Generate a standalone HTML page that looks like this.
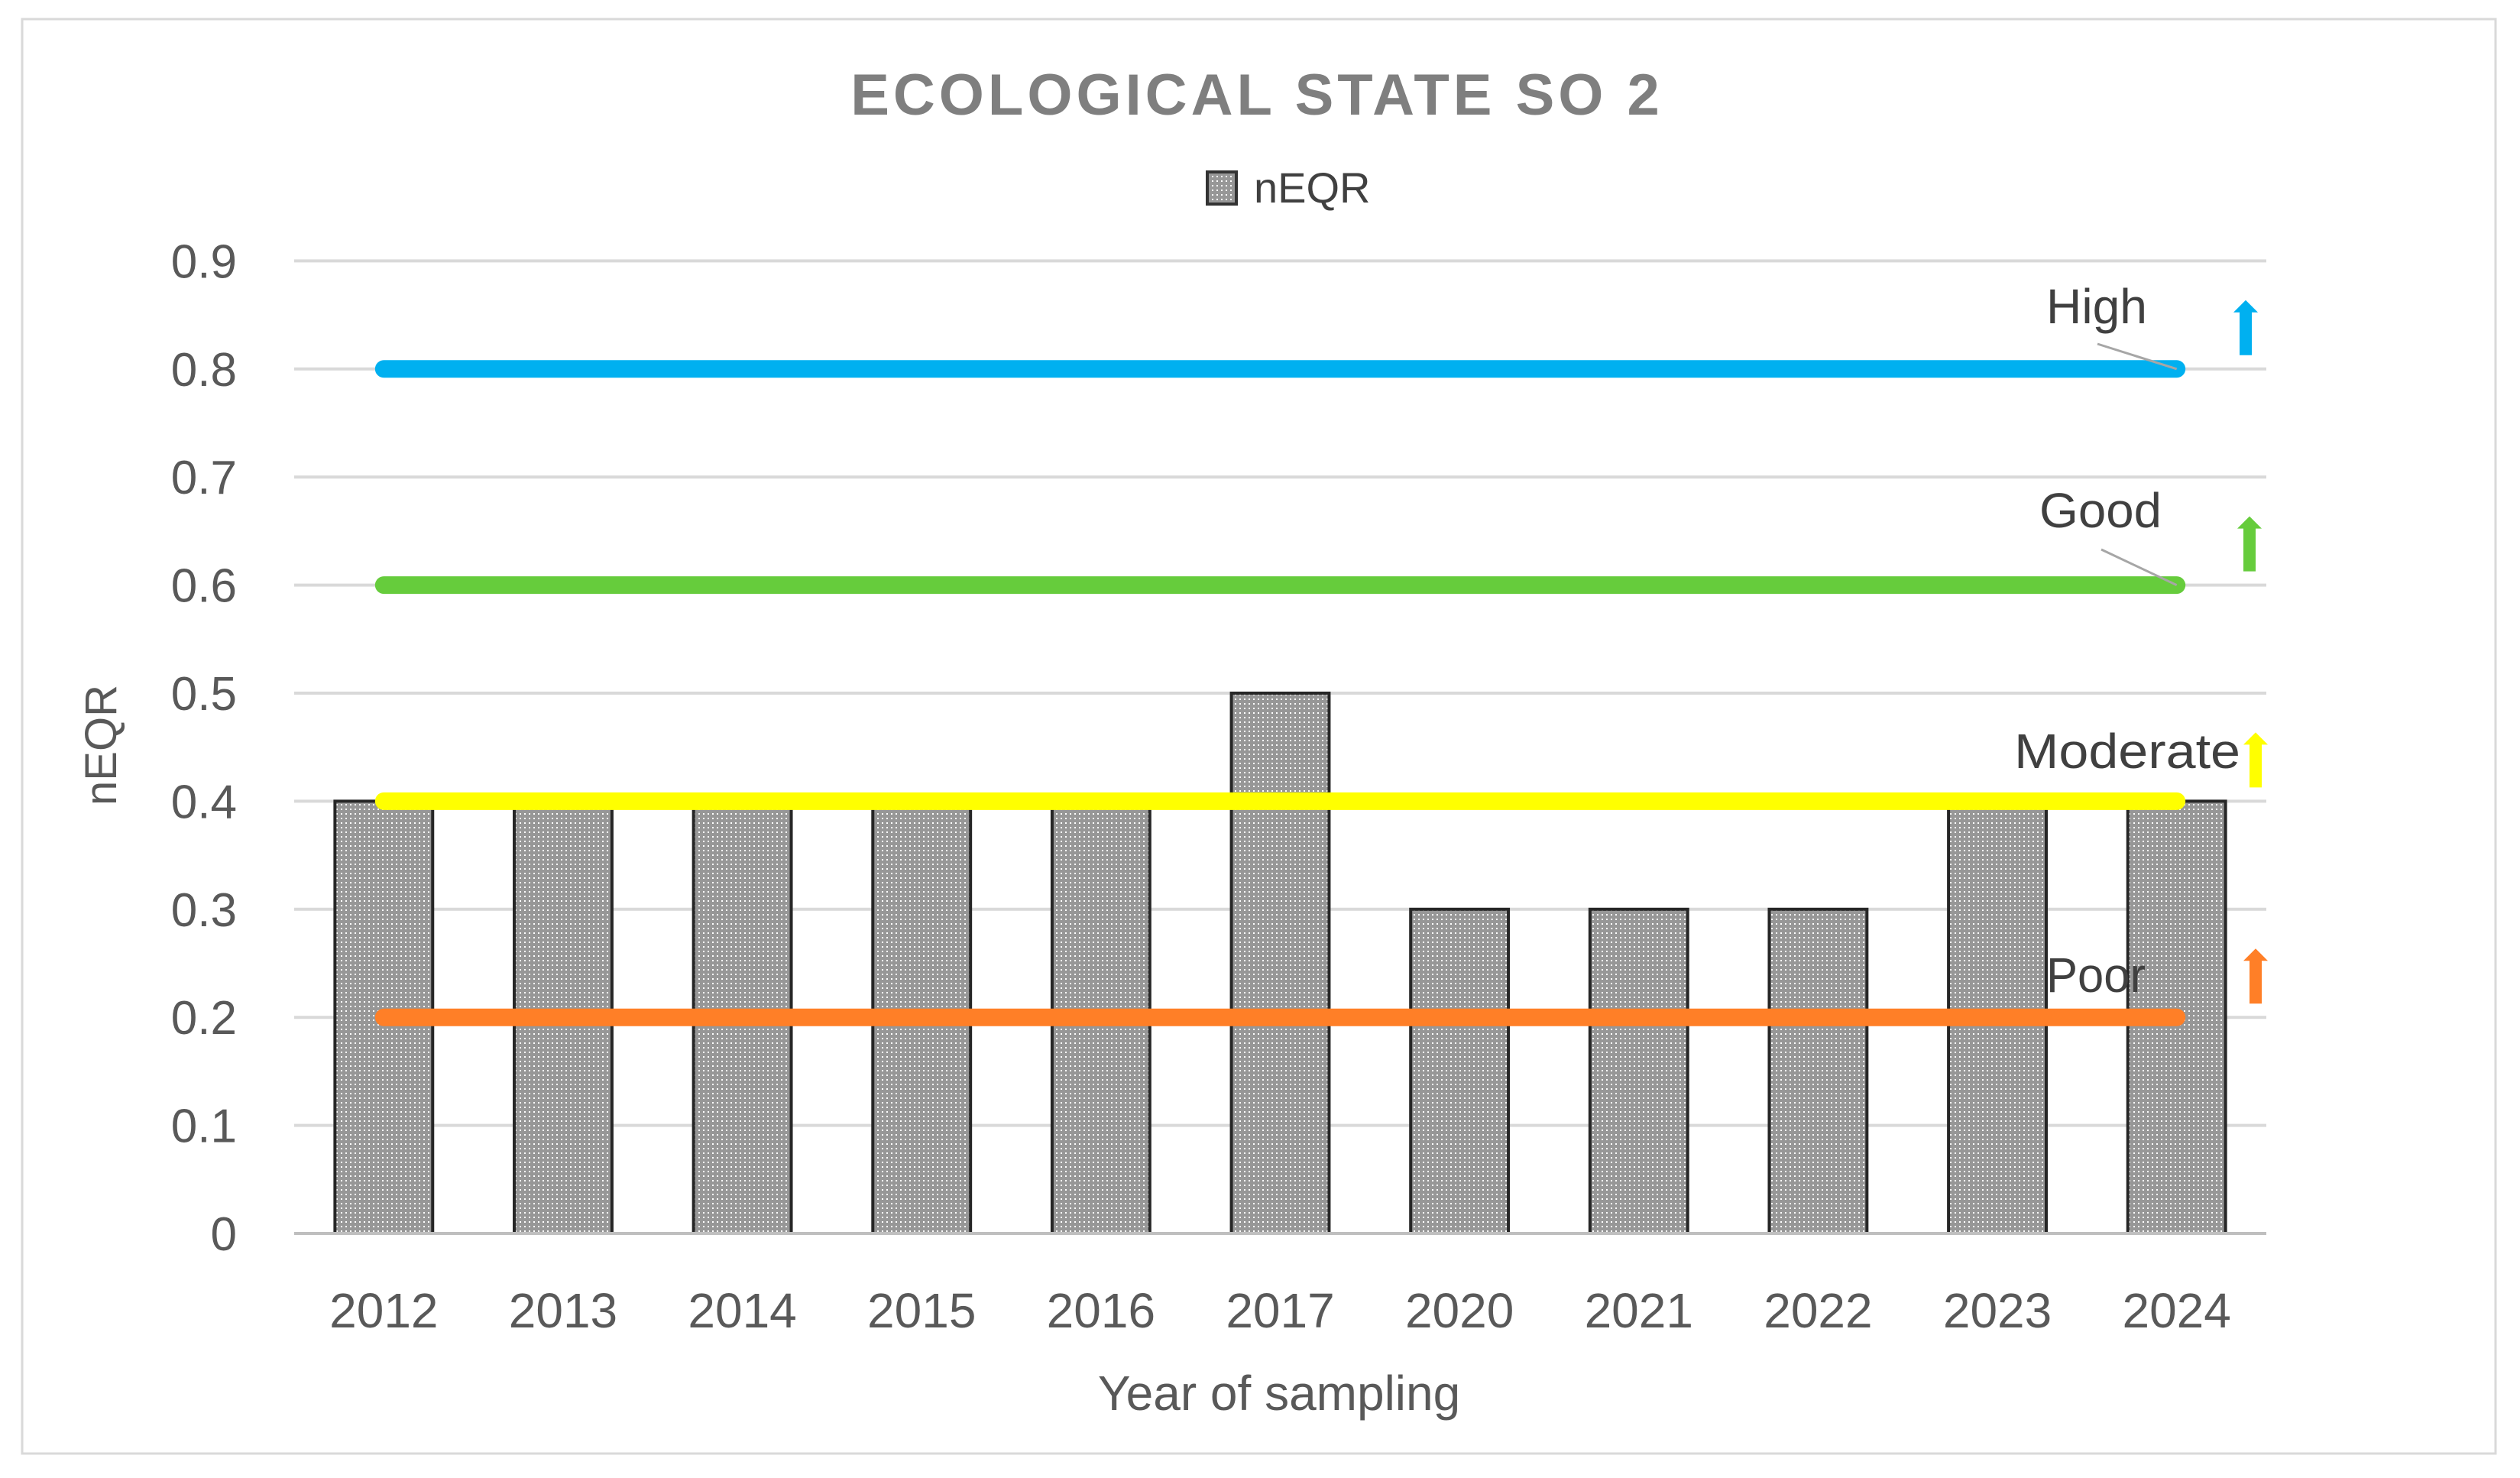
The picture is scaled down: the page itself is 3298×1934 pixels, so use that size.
<!DOCTYPE html>
<html><head><meta charset="utf-8"><style>
html,body{margin:0;padding:0;background:#fff;}
svg{display:block;font-family:"Liberation Sans",sans-serif;}
</style></head><body>
<svg id="chart" width="3298" height="1934" viewBox="0 0 3298 1934" xmlns="http://www.w3.org/2000/svg">
<defs>
<pattern id="dots" width="6" height="6" patternUnits="userSpaceOnUse">
<rect width="6" height="6" fill="#979797"/>
<rect x="2" y="2" width="2" height="2" fill="#ffffff"/>
</pattern>
</defs>
<rect x="29" y="25" width="3237" height="1877" fill="#fff" stroke="#d9d9d9" stroke-width="3"/>
<text x="1645" y="150" text-anchor="middle" font-size="76" font-weight="bold" fill="#7f7f7f" letter-spacing="5">ECOLOGICAL STATE SO 2</text>
<g>
<rect x="1580" y="225" width="38" height="42" fill="url(#dots)" stroke="#333" stroke-width="4"/>
<text x="1641" y="265" font-size="56" fill="#404040">nEQR</text>
</g>
<g id="grid"></g>
<g id="bars"></g>
<g id="thresholds"></g>
<g id="axes"></g>
<text x="1674" y="1845" text-anchor="middle" font-size="64" fill="#595959">Year of sampling</text>
<text transform="translate(152,975) rotate(-90)" text-anchor="middle" font-size="58" fill="#595959">nEQR</text>
</svg>
<script>
const categories = ["2012","2013","2014","2015","2016","2017","2020","2021","2022","2023","2024"];
const values = [0.4,0.4,0.4,0.4,0.4,0.5,0.3,0.3,0.3,0.4,0.4];
const yTicks = [0,0.1,0.2,0.3,0.4,0.5,0.6,0.7,0.8,0.9];
const yTickLabels = ["0","0.1","0.2","0.3","0.4","0.5","0.6","0.7","0.8","0.9"];
const thresholdNames = ["High","Good","Moderate","Poor"];
const thresholdValues = [0.8,0.6,0.4,0.2];
const thresholdColors = ["#00b0f0","#66cc3c","#ffff00","#ff7f27"];

const NS = "http://www.w3.org/2000/svg";
const x0 = 385, x1 = 2966, y0 = 1614, yStep = 1414;
const band = (x1 - x0) / categories.length;
const xc = i => x0 + band * (i + 0.5);
const y = v => y0 - v * yStep;
function mk(tag, attrs, parent){const e=document.createElementNS(NS,tag);for(const k in attrs)e.setAttribute(k,attrs[k]);parent.appendChild(e);return e;}

const grid = document.getElementById('grid');
yTicks.forEach((t,i)=>{
  if(t>0){const l=mk('line',{x1:x0,x2:x1,y1:y(t),y2:y(t),stroke:'#d9d9d9','stroke-width':4},grid);
  
  }
  const tx=mk('text',{x:310,y:y(t)+22,'text-anchor':'end','font-size':62,fill:'#595959'},grid);
  tx.textContent=yTickLabels[i];
  
  
});

const bars = document.getElementById('bars');
const bw = band * 0.545;
values.forEach((v,i)=>{
  const r=mk('rect',{x:xc(i)-bw/2,y:y(v),width:bw,height:y(0)-y(v),fill:'url(#dots)',stroke:'#262626','stroke-width':4},bars);
  
  
});

const axes = document.getElementById('axes');
const ax=mk('line',{x1:x0,x2:x1,y1:y0,y2:y0,stroke:'#bfbfbf','stroke-width':4},axes);


categories.forEach((c,i)=>{
  const t=mk('text',{x:xc(i),y:1737,'text-anchor':'middle','font-size':64,fill:'#595959'},axes);
  t.textContent=c;
  
  
});

const th = document.getElementById('thresholds');
const labelPos = [[2678,423,132],[2669,690,160],[2636,1005,296],[2678,1298,130]];
const arrowX = [2939,2944,2952,2952];
const leaders = [[2745,450],[2750,719],null,null];
thresholdValues.forEach((v,i)=>{
  const l=mk('line',{x1:xc(0),x2:xc(categories.length-1),y1:y(v),y2:y(v),stroke:thresholdColors[i],'stroke-width':23,'stroke-linecap':'round'},th);
  
  
  if(leaders[i]){
    const ld=mk('line',{x1:leaders[i][0],y1:leaders[i][1],x2:xc(categories.length-1),y2:y(v),stroke:'#a6a6a6','stroke-width':3},th);
    
    
  }
  const p=labelPos[i];
  const t=mk('text',{x:p[0],y:p[1],'font-size':64,fill:'#404040',textLength:p[2],lengthAdjust:'spacingAndGlyphs'},th);
  t.textContent=thresholdNames[i];
  
  
  const ax=arrowX[i], tip=y(v)-90, bot=y(v)-18;
  const a=mk('path',{d:`M${ax} ${tip} L${ax+16} ${tip+16} L${ax+8} ${tip+16} L${ax+8} ${bot} L${ax-8} ${bot} L${ax-8} ${tip+16} L${ax-16} ${tip+16} Z`,fill:thresholdColors[i]},th);
  
  
});
</script>
</body></html>
